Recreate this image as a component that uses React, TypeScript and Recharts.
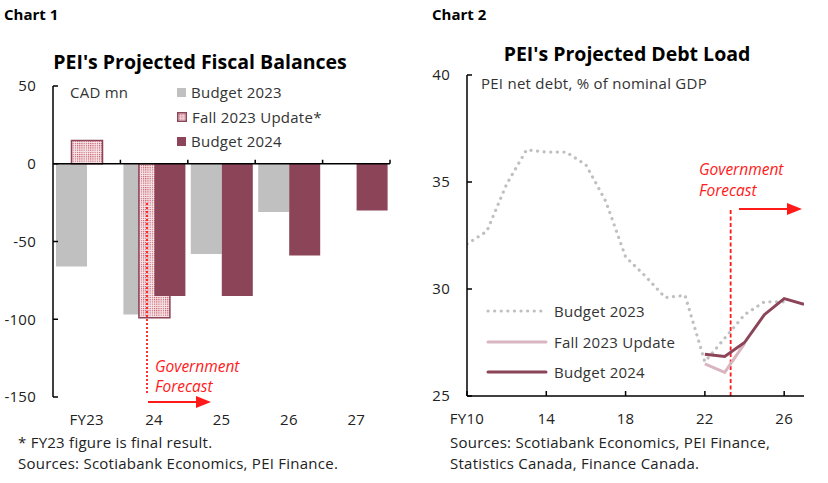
import React from "react";
import {
  BarChart,
  Bar,
  LineChart,
  Line,
  XAxis,
  YAxis,
  ReferenceLine,
} from "recharts";

// Chart 1: fiscal balances, CAD mn
const fiscalYears = ["FY23", "24", "25", "26", "27"];
const budget2023Bal = [-66, -97, -58, -31, null];
const fall2023Bal = [15, -99, null, null, null];
const budget2024Bal = [null, -85, -85, -59, -30];
const balTicks = [-150, -100, -50, 0, 50];

// Chart 2: net debt, % of nominal GDP
const debtYears = [10, 11, 12, 13, 14, 15, 16, 17, 18, 19, 20, 21, 22, 23, 24, 25, 26, 27];
const budget2023Debt = [32.1, 32.7, 34.9, 36.5, 36.4, 36.4, 35.8, 34.1, 31.5, 30.6, 29.6, 29.7, 26.6, 27.7, 28.8, 29.4, 29.4, null];
const fall2023Debt = [null, null, null, null, null, null, null, null, null, null, null, null, 26.5, 26.1, 27.45, null, null, null];
const budget2024Debt = [null, null, null, null, null, null, null, null, null, null, null, null, 26.95, 26.85, 27.5, 28.8, 29.55, 29.28];
const debtTicks = [25, 30, 35, 40];
const debtXTicks = [10, 14, 18, 22, 26];

const balanceRows = fiscalYears.map((year, i) => ({
  year,
  b23: budget2023Bal[i],
  f23: fall2023Bal[i],
  b24: budget2024Bal[i],
}));

const debtRows = debtYears.map((yr, i) => ({
  yr,
  b23: budget2023Debt[i],
  f23: fall2023Debt[i],
  b24: budget2024Debt[i],
}));

const FONT = "'Open Sans', sans-serif";
const GRAY = "#C0C0C0";
const MAROON = "#8C4458";
const PINK = "#D8B5BF";
const RED = "#FF1A1A";
const TXT = "#222";
const LS = 0.25;

const tickStyle = { fill: TXT, fontSize: 15, fontFamily: FONT, letterSpacing: LS };

// zero line with small upward ticks at category boundaries
const ZeroAxis = (props: any) => {
  const { x1, x2, y1 } = props;
  const n = fiscalYears.length;
  const step = (x2 - x1) / n;
  return (
    <g>
      <line x1={x1} x2={x2} y1={y1} y2={y1} stroke="#000" strokeWidth={1.5} />
      {fiscalYears.map((_, i) => (
        <line
          key={i}
          x1={x1 + step * (i + 1)}
          x2={x1 + step * (i + 1)}
          y1={y1}
          y2={y1 - 4}
          stroke="#000"
          strokeWidth={1.5}
        />
      ))}
    </g>
  );
};

const abs = (left: number, top: number, extra: React.CSSProperties = {}): React.CSSProperties => ({
  position: "absolute",
  left,
  top,
  whiteSpace: "nowrap",
  ...extra,
});

const Swatch = ({ kind }: { kind: string }) => {
  if (kind === "gray")
    return <span style={{ display: "inline-block", width: 9, height: 9, background: GRAY }} />;
  if (kind === "dots")
    return (
      <svg width={10} height={10} style={{ display: "block" }}>
        <rect x={0.75} y={0.75} width={8.5} height={8.5} fill="url(#dots)" stroke={MAROON} strokeWidth={1.5} />
      </svg>
    );
  return <span style={{ display: "inline-block", width: 9, height: 9, background: MAROON }} />;
};

const legend1 = [
  { label: "Budget 2023", kind: "gray" },
  { label: "Fall 2023 Update*", kind: "dots" },
  { label: "Budget 2024", kind: "maroon" },
];

const legend2 = [
  { label: "Budget 2023", color: GRAY, dash: "0.1 6.5", w: 3.2 },
  { label: "Fall 2023 Update", color: PINK, dash: undefined, w: 3 },
  { label: "Budget 2024", color: MAROON, dash: undefined, w: 3 },
];

const FiscalChart = () => (
  <div style={abs(0, 0, { width: 414, height: 483 })}>
    <div style={abs(4, 4, { fontSize: 15, fontWeight: 700, color: "#000" })}>Chart 1</div>
    <div style={abs(0, 48, { width: 400, textAlign: "center", fontSize: 19.5, fontWeight: 700, color: "#000" })}>
      PEI's Projected Fiscal Balances
    </div>
    <div style={abs(0, 0)}>
      <BarChart
        width={414}
        height={483}
        data={balanceRows}
        margin={{ top: 86, right: 24, bottom: 56, left: 0 }}
        barSize={31}
        barGap={-15.5}
      >
        <YAxis
          width={53}
          domain={[-150, 50]}
          ticks={balTicks}
          allowDataOverflow
          axisLine={{ stroke: "#000", strokeWidth: 1.5 }}
          tickLine={{ stroke: "#000", strokeWidth: 1.5 }}
          tickSize={-5}
          tickMargin={22}
          tick={tickStyle}
        />
        <XAxis
          dataKey="year"
          height={30}
          axisLine={false}
          tickLine={false}
          tickMargin={11}
          tick={tickStyle}
        />
        <Bar dataKey="b23" fill={GRAY} isAnimationActive={false} />
        <Bar dataKey="f23" fill="url(#dots)" stroke={MAROON} strokeWidth={1.5} isAnimationActive={false} />
        <Bar dataKey="b24" fill={MAROON} isAnimationActive={false} />
        <ReferenceLine y={0} shape={ZeroAxis} />
      </BarChart>
    </div>
    <div style={abs(70, 82, { fontSize: 15, letterSpacing: LS, color: "#333" })}>CAD mn</div>
    {legend1.map((l, i) => (
      <div key={l.label} style={abs(177, 82 + i * 24.5, { display: "flex", alignItems: "center", gap: 5, fontSize: 15, letterSpacing: LS, color: "#333" })}>
        <Swatch kind={l.kind} />
        <span>{l.label}</span>
      </div>
    ))}
    <svg style={abs(0, 0)} width={414} height={483}>
      <line x1={147} x2={147} y1={203} y2={393} stroke={RED} strokeWidth={1.8} strokeDasharray="2 2" />
      <line x1={148} x2={198} y1={402} y2={402} stroke={RED} strokeWidth={2} />
      <polygon points="196,396 211,402 196,408" fill={RED} />
    </svg>
    <div style={abs(155, 356, { fontSize: 15.5, fontStyle: "italic", color: RED, lineHeight: "20px" })}>
      Government
      <br />
      Forecast
    </div>
    <div style={abs(18, 432, { fontSize: 15, letterSpacing: LS, color: TXT, lineHeight: "21px" })}>
      * FY23 figure is final result.
      <br />
      Sources: Scotiabank Economics, PEI Finance.
    </div>
  </div>
);

const DebtChart = () => (
  <div style={abs(414, 0, { width: 414, height: 483 })}>
    <div style={abs(18, 4, { fontSize: 15, fontWeight: 700, color: "#000" })}>Chart 2</div>
    <div style={abs(0, 40, { width: 426, textAlign: "center", fontSize: 19.5, fontWeight: 700, color: "#000" })}>
      PEI's Projected Debt Load
    </div>
    <div style={abs(0, 0)}>
      <LineChart
        width={414}
        height={483}
        data={debtRows}
        margin={{ top: 75, right: 24, bottom: 57, left: 0 }}
      >
        <XAxis
          dataKey="yr"
          type="number"
          domain={[10, 27]}
          ticks={debtXTicks}
          allowDataOverflow
          height={30}
          tickFormatter={(v: number) => (v === 10 ? "FY10" : String(v))}
          axisLine={{ stroke: "#000", strokeWidth: 1.5 }}
          tickLine={{ stroke: "#000", strokeWidth: 1.5 }}
          tickSize={-5}
          tickMargin={22}
          tick={tickStyle}
        />
        <YAxis
          width={53}
          domain={[25, 40]}
          ticks={debtTicks}
          allowDataOverflow
          axisLine={{ stroke: "#000", strokeWidth: 1.5 }}
          tickLine={{ stroke: "#000", strokeWidth: 1.5 }}
          tickSize={-5}
          tickMargin={22}
          tick={tickStyle}
        />
        <ReferenceLine
          segment={[
            { x: 23.3, y: 25 },
            { x: 23.3, y: 33.8 },
          ]}
          stroke={RED}
          strokeWidth={1.8}
          strokeDasharray="4 2.5"
        />
        <Line
          dataKey="b23"
          stroke={GRAY}
          strokeWidth={3.2}
          strokeDasharray="0.1 6.5"
          strokeLinecap="round"
          dot={false}
          connectNulls={false}
          isAnimationActive={false}
        />
        <Line dataKey="f23" stroke={PINK} strokeWidth={3} dot={false} isAnimationActive={false} />
        <Line dataKey="b24" stroke={MAROON} strokeWidth={3} dot={false} isAnimationActive={false} />
      </LineChart>
    </div>
    <div style={abs(67, 73, { fontSize: 15, letterSpacing: LS, color: "#333" })}>PEI net debt, % of nominal GDP</div>
    {legend2.map((l, i) => (
      <div key={l.label} style={abs(72, 301 + i * 30.5, { display: "flex", alignItems: "center", gap: 6, fontSize: 15, letterSpacing: LS, color: "#333" })}>
        <svg width={62} height={8} style={{ display: "block" }}>
          <line x1={2} x2={60} y1={4} y2={4} stroke={l.color} strokeWidth={l.w} strokeDasharray={l.dash} strokeLinecap="round" />
        </svg>
        <span>{l.label}</span>
      </div>
    ))}
    <div style={abs(285, 159, { fontSize: 15.5, fontStyle: "italic", color: RED, lineHeight: "21px" })}>
      Government
      <br />
      Forecast
    </div>
    <svg style={abs(0, 0)} width={414} height={483}>
      <line x1={325} x2={375} y1={209} y2={209} stroke={RED} strokeWidth={2} />
      <polygon points="373,203 388,209 373,215" fill={RED} />
    </svg>
    <div style={abs(36, 432, { fontSize: 15, letterSpacing: LS, color: TXT, lineHeight: "21px" })}>
      Sources: Scotiabank Economics, PEI Finance,
      <br />
      Statistics Canada, Finance Canada.
    </div>
  </div>
);

export default function App() {
  return (
    <div style={{ position: "absolute", left: 0, top: 0, width: 828, height: 483, background: "#fff", fontFamily: FONT, overflow: "hidden" }}>
      <svg width={0} height={0} style={{ position: "absolute" }}>
        <defs>
          <pattern id="dots" width={2.2} height={2.2} patternUnits="userSpaceOnUse">
            <rect width={2.2} height={2.2} fill="#F6E6E9" />
            <rect width={1.1} height={1.1} fill="#C4505F" />
          </pattern>
        </defs>
      </svg>
      <FiscalChart />
      <DebtChart />
    </div>
  );
}
